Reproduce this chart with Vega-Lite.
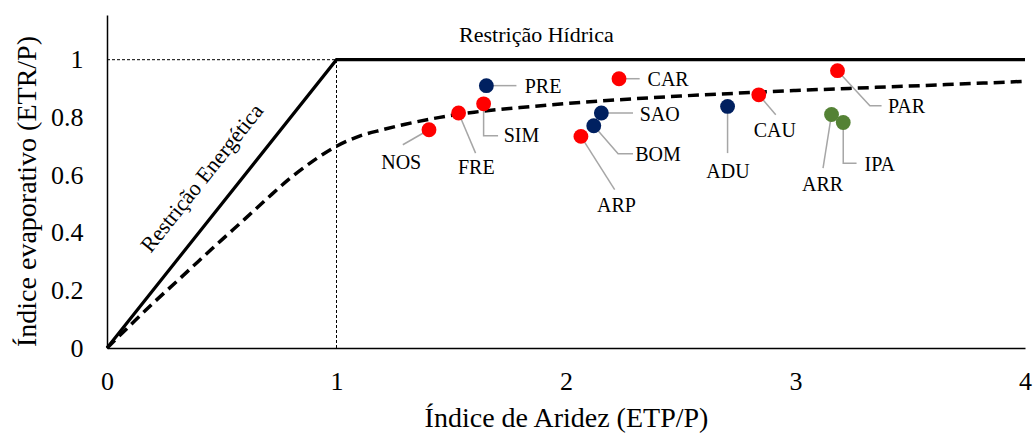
{
  "$schema": "https://vega.github.io/schema/vega-lite/v6.json",
  "width": 918,
  "height": 333,
  "autosize": "none",
  "padding": {"left": 107, "top": 15, "right": 9, "bottom": 86},
  "background": "white",
  "config": {
    "view": {"stroke": null},
    "font": "Liberation Serif",
    "axis": {
      "grid": false,
      "ticks": false,
      "domainColor": "#000000",
      "domainWidth": 1.5,
      "labelFont": "Liberation Serif",
      "labelFontSize": 26,
      "labelColor": "#000000",
      "titleFont": "Liberation Serif",
      "titleFontSize": 28,
      "titleFontWeight": "normal",
      "titleColor": "#000000"
    }
  },
  "datasets": {
    "limites": [
      {"x": 0, "y": 0},
      {"x": 1, "y": 1},
      {"x": 4, "y": 1}
    ],
    "guias": [
      {"x": 0, "x2": 1, "y": 1, "y2": 1},
      {"x": 1, "x2": 1, "y": 0, "y2": 1}
    ],
    "curva": [
      {"x": 0, "y": 0},
      {"x": 0.1, "y": 0.078},
      {"x": 0.2, "y": 0.155},
      {"x": 0.3, "y": 0.228},
      {"x": 0.4, "y": 0.302},
      {"x": 0.5, "y": 0.375},
      {"x": 0.6, "y": 0.447},
      {"x": 0.7, "y": 0.52},
      {"x": 0.8, "y": 0.59},
      {"x": 0.9, "y": 0.65},
      {"x": 1.0, "y": 0.7},
      {"x": 1.1, "y": 0.735},
      {"x": 1.2, "y": 0.757},
      {"x": 1.3, "y": 0.776},
      {"x": 1.45, "y": 0.8},
      {"x": 1.6, "y": 0.818},
      {"x": 1.8, "y": 0.834},
      {"x": 2.0, "y": 0.848},
      {"x": 2.25, "y": 0.862},
      {"x": 2.5, "y": 0.874},
      {"x": 2.75, "y": 0.884},
      {"x": 3.0, "y": 0.893},
      {"x": 3.35, "y": 0.904},
      {"x": 3.7, "y": 0.915},
      {"x": 4.0, "y": 0.925}
    ],
    "postos": [
      {"posto": "PRE", "grupo": "G2", "x": 1.653, "y": 0.91, "lx": 1.9, "ly": 0.905},
      {"posto": "SIM", "grupo": "G1", "x": 1.641, "y": 0.847, "lx": 1.806, "ly": 0.734},
      {"posto": "FRE", "grupo": "G1", "x": 1.532, "y": 0.815, "lx": 1.609, "ly": 0.624},
      {"posto": "NOS", "grupo": "G1", "x": 1.403, "y": 0.757, "lx": 1.282, "ly": 0.643},
      {"posto": "CAR", "grupo": "G1", "x": 2.231, "y": 0.934, "lx": 2.445, "ly": 0.931},
      {"posto": "SAO", "grupo": "G2", "x": 2.154, "y": 0.815, "lx": 2.408, "ly": 0.809},
      {"posto": "BOM", "grupo": "G2", "x": 2.121, "y": 0.771, "lx": 2.401, "ly": 0.67},
      {"posto": "ARP", "grupo": "G1", "x": 2.065, "y": 0.734, "lx": 2.22, "ly": 0.491},
      {"posto": "ADU", "grupo": "G2", "x": 2.704, "y": 0.838, "lx": 2.706, "ly": 0.612},
      {"posto": "CAU", "grupo": "G1", "x": 2.84, "y": 0.878, "lx": 2.91, "ly": 0.753},
      {"posto": "PAR", "grupo": "G1", "x": 3.183, "y": 0.962, "lx": 3.484, "ly": 0.836},
      {"posto": "ARR", "grupo": "G3", "x": 3.157, "y": 0.81, "lx": 3.118, "ly": 0.564},
      {"posto": "IPA", "grupo": "G3", "x": 3.208, "y": 0.782, "lx": 3.367, "ly": 0.635}
    ],
    "linhas": [
      {"posto": "PRE", "ordem": 1, "x": 1.653, "y": 0.91},
      {"posto": "PRE", "ordem": 2, "x": 1.784, "y": 0.91},
      {"posto": "SIM", "ordem": 1, "x": 1.641, "y": 0.847},
      {"posto": "SIM", "ordem": 2, "x": 1.641, "y": 0.736},
      {"posto": "SIM", "ordem": 3, "x": 1.704, "y": 0.736},
      {"posto": "FRE", "ordem": 1, "x": 1.532, "y": 0.815},
      {"posto": "FRE", "ordem": 2, "x": 1.606, "y": 0.676},
      {"posto": "NOS", "ordem": 1, "x": 1.403, "y": 0.757},
      {"posto": "NOS", "ordem": 2, "x": 1.289, "y": 0.705},
      {"posto": "CAR", "ordem": 1, "x": 2.231, "y": 0.934},
      {"posto": "CAR", "ordem": 2, "x": 2.321, "y": 0.934},
      {"posto": "SAO", "ordem": 1, "x": 2.154, "y": 0.815},
      {"posto": "SAO", "ordem": 2, "x": 2.292, "y": 0.815},
      {"posto": "BOM", "ordem": 1, "x": 2.121, "y": 0.771},
      {"posto": "BOM", "ordem": 2, "x": 2.227, "y": 0.674},
      {"posto": "BOM", "ordem": 3, "x": 2.292, "y": 0.674},
      {"posto": "ARP", "ordem": 1, "x": 2.065, "y": 0.734},
      {"posto": "ARP", "ordem": 2, "x": 2.212, "y": 0.549},
      {"posto": "ADU", "ordem": 1, "x": 2.704, "y": 0.838},
      {"posto": "ADU", "ordem": 2, "x": 2.704, "y": 0.676},
      {"posto": "CAU", "ordem": 1, "x": 2.84, "y": 0.878},
      {"posto": "CAU", "ordem": 2, "x": 2.914, "y": 0.809},
      {"posto": "PAR", "ordem": 1, "x": 3.183, "y": 0.962},
      {"posto": "PAR", "ordem": 2, "x": 3.324, "y": 0.84},
      {"posto": "PAR", "ordem": 3, "x": 3.375, "y": 0.84},
      {"posto": "ARR", "ordem": 1, "x": 3.157, "y": 0.81},
      {"posto": "ARR", "ordem": 2, "x": 3.12, "y": 0.624},
      {"posto": "IPA", "ordem": 1, "x": 3.208, "y": 0.782},
      {"posto": "IPA", "ordem": 2, "x": 3.208, "y": 0.641},
      {"posto": "IPA", "ordem": 3, "x": 3.266, "y": 0.641}
    ],
    "rotulos": [
      {"texto": "Restrição Hídrica", "x": 1.871, "y": 1.084}
    ],
    "rotulos2": [
      {"texto": "Restrição Energética", "x": 0.414, "y": 0.589}
    ]
  },
  "encoding": {
    "x": {
      "field": "x", "type": "quantitative",
      "scale": {"domain": [0, 4], "nice": false, "zero": false},
      "axis": {"title": "Índice de Aridez (ETP/P)", "values": [0, 1, 2, 3, 4], "labelPadding": 20, "titlePadding": 10, "labelFlush": false}
    },
    "y": {
      "field": "y", "type": "quantitative",
      "scale": {"domain": [0, 1.155], "nice": false, "zero": false},
      "axis": {"title": "Índice evaporativo (ETR/P)", "values": [0, 0.2, 0.4, 0.6, 0.8, 1], "format": "~g", "labelPadding": 24, "titlePadding": 9, "titleY": 176, "labelFlush": false}
    }
  },
  "layer": [
    {
      "data": {"name": "guias"},
      "mark": {"type": "rule", "color": "#000000", "strokeWidth": 1, "strokeDash": [3, 2]},
      "encoding": {
        "x2": {"field": "x2"},
        "y2": {"field": "y2"}
      }
    },
    {
      "data": {"name": "limites"},
      "mark": {"type": "line", "color": "#000000", "strokeWidth": 3.2},
      "encoding": {}
    },
    {
      "data": {"name": "curva"},
      "mark": {"type": "line", "color": "#000000", "strokeWidth": 3.5, "strokeDash": [11, 6], "interpolate": "monotone"},
      "encoding": {}
    },
    {
      "data": {"name": "linhas"},
      "mark": {"type": "line", "color": "#A6A6A6", "strokeWidth": 1.5},
      "encoding": {
        "detail": {"field": "posto"},
        "order": {"field": "ordem", "type": "quantitative"}
      }
    },
    {
      "data": {"name": "postos"},
      "mark": {"type": "circle", "size": 220, "opacity": 1},
      "encoding": {
        "color": {
          "field": "grupo", "type": "nominal",
          "scale": {"domain": ["G1", "G2", "G3"], "range": ["#FF0000", "#002060", "#548235"]},
          "legend": null
        }
      }
    },
    {
      "data": {"name": "postos"},
      "mark": {"type": "text", "font": "Liberation Serif", "fontSize": 20, "color": "#000000", "align": "center", "baseline": "middle"},
      "encoding": {
        "x": {"field": "lx", "type": "quantitative", "title": "Índice de Aridez (ETP/P)"},
        "y": {"field": "ly", "type": "quantitative", "title": "Índice evaporativo (ETR/P)"},
        "text": {"field": "posto"}
      }
    },
    {
      "data": {"name": "rotulos"},
      "mark": {"type": "text", "font": "Liberation Serif", "fontSize": 22, "color": "#000000", "align": "center", "baseline": "middle"},
      "encoding": {
        "text": {"field": "texto"}
      }
    },
    {
      "data": {"name": "rotulos2"},
      "mark": {"type": "text", "font": "Liberation Serif", "fontSize": 22, "color": "#000000", "align": "center", "baseline": "middle", "angle": -51.5},
      "encoding": {
        "text": {"field": "texto"}
      }
    }
  ]
}
